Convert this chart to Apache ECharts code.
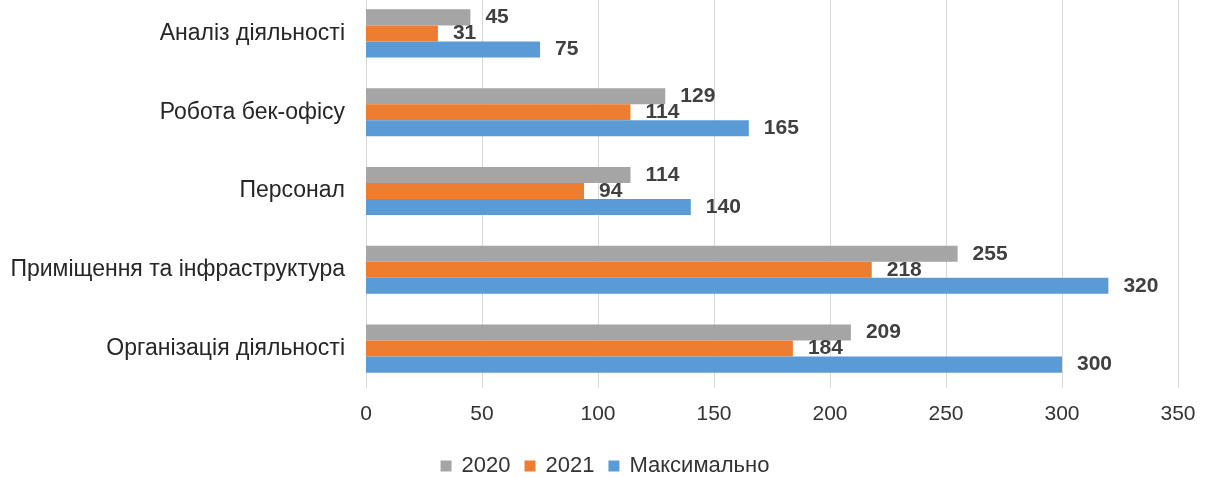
<!DOCTYPE html>
<html>
<head>
<meta charset="utf-8">
<script src="https://cdn.jsdelivr.net/npm/echarts@6/dist/echarts.min.js"></script>
<style>
  html, body { margin: 0; padding: 0; background: #fff; }
  #chart { width: 1210px; height: 477px; }
</style>
</head>
<body>
<div id="chart"></div>
<script>
// Categories listed from bottom to top of the chart
const categories = [
  'Організація діяльності',
  'Приміщення та інфраструктура',
  'Персонал',
  'Робота бек-офісу',
  'Аналіз діяльності'
];
const values2020 = [209, 255, 114, 129, 45];
const values2021 = [184, 218, 94, 114, 31];
const valuesMax = [300, 320, 140, 165, 75];
const xTicks = [0, 50, 100, 150, 200, 250, 300, 350];

const FONT = 'Liberation Sans, Arial, sans-serif';

const labelStyle = {
  show: true,
  position: 'right',
  distance: 15,
  fontFamily: FONT,
  fontSize: 21,
  fontWeight: 'bold',
  color: '#404040'
};

function barSeries(name, data, color) {
  return {
    name: name,
    type: 'bar',
    data: data,
    itemStyle: { color: color },
    barGap: '0%',
    barCategoryGap: '39%',
    label: labelStyle
  };
}

const chart = echarts.init(document.getElementById('chart'));
chart.setOption({
  animation: false,
  backgroundColor: '#ffffff',
  grid: {
    left: 366, right: 32, top: -6, bottom: 89,
    containLabel: false,
    outerBoundsMode: 'none'
  },
  legend: {
    data: ['2020', '2021', 'Максимально'],
    bottom: -5,
    left: 'center',
    icon: 'rect',
    itemWidth: 11,
    itemHeight: 11,
    itemGap: 14,
    textStyle: { fontFamily: FONT, fontSize: 22, color: '#333', padding: [0, 0, 0, 5] }
  },
  xAxis: {
    type: 'value',
    min: xTicks[0],
    max: xTicks[xTicks.length - 1],
    interval: xTicks[1] - xTicks[0],
    axisLine: { show: false },
    axisTick: { show: false },
    splitLine: { lineStyle: { color: '#d9d9d9', width: 1 } },
    axisLabel: { fontFamily: FONT, fontSize: 21, color: '#333', margin: 16 }
  },
  yAxis: {
    type: 'category',
    data: categories,
    axisLine: { show: true, lineStyle: { color: '#d9d9d9' } },
    axisTick: { show: false },
    axisLabel: { fontFamily: FONT, fontSize: 23, color: '#262626', margin: 21 }
  },
  series: [
    barSeries('2020', values2020, '#a5a5a5'),
    barSeries('2021', values2021, '#ed7d31'),
    barSeries('Максимально', valuesMax, '#5b9bd5')
  ]
});
</script>
</body>
</html>
